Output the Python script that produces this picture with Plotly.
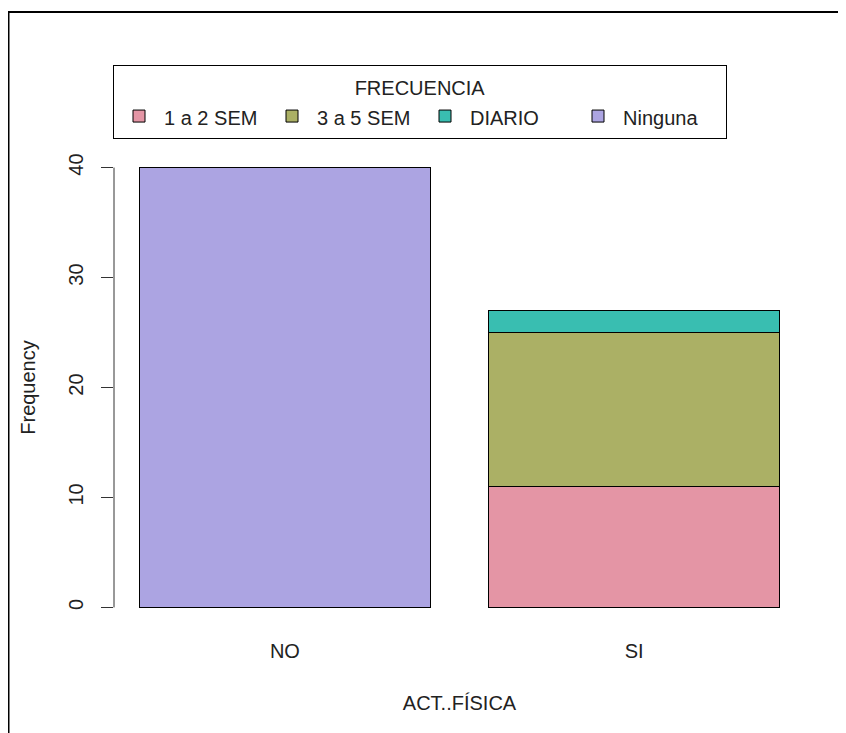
import plotly.graph_objects as go

categories = ["NO", "SI"]
series_names = ["1 a 2 SEM", "3 a 5 SEM", "DIARIO", "Ninguna"]
v_1a2 = [0, 11]
v_3a5 = [0, 14]
v_diario = [0, 2]
v_ninguna = [40, 0]
colors = ["#E495A5", "#ABB065", "#39BEB1", "#ACA4E2"]
y_ticks = [0, 10, 20, 30, 40]

FONT = "Liberation Sans, Arial, sans-serif"
FS = 20

fig = go.Figure()
for name, vals, col in zip(series_names, [v_1a2, v_3a5, v_diario, v_ninguna], colors):
    fig.add_trace(go.Bar(
        x=categories, y=vals, name=f"<span style='font-size:{FS}px'>{name}</span>", width=1 / 1.2,
        marker=dict(color=col, line=dict(color="black", width=1)),
    ))

# page has an 8px body margin, so the figure is sized to fill the rest of the window
W, H = 838, 725
L, R, T, B = 106, 41, 142, 108
PW, PH = W - L - R, H - T - B

def px_x(x):
    return (x - L) / PW

def px_y(y):
    return (H - B - y) / PH

fig.update_layout(
    width=W, height=H,
    margin=dict(l=L, r=R, t=T, b=B, pad=0),
    barmode="stack",
    plot_bgcolor="white", paper_bgcolor="white",
    font=dict(family=FONT, size=FS, color="#222222"),
    showlegend=True,
    legend=dict(
        orientation="h", x=px_x(105), xanchor="left", y=px_y(57), yanchor="top",
        traceorder="normal",
        bordercolor="black", borderwidth=1,
        font=dict(family=FONT, size=23, color="#222222"),
        title=dict(text=f"<span style='font-size:{FS}px'>FRECUENCIA</span>", side="top center",
                   font=dict(family=FONT, size=22)),
        itemwidth=40,
        entrywidth=98, entrywidthmode="pixels",
        itemclick=False,
    ),
    xaxis=dict(
        range=[-0.4895, 1.4895], showline=False, ticks="", showgrid=False, zeroline=False,
        tickfont=dict(family=FONT, size=FS), ticklabelstandoff=12,
        title=dict(text="ACT..FÍSICA", font=dict(family=FONT, size=FS), standoff=34),
    ),
    yaxis=dict(
        range=[-1.6, 41.6], tickvals=y_ticks, ticks="outside", ticklen=12, tickcolor="#333333",
        tickangle=-90, showgrid=False, zeroline=False, showline=False,
        tickfont=dict(family=FONT, size=FS), ticklabelstandoff=10,
        title=dict(text="Frequency", font=dict(family=FONT, size=FS), standoff=24),
    ),
    shapes=[
        dict(type="line", xref="paper", yref="y", x0=0, x1=0, y0=y_ticks[0], y1=y_ticks[-1],
             line=dict(color="#333333", width=1)),
        # outer frame lines of the reference screenshot
        dict(type="line", xref="paper", yref="paper", x0=px_x(0), x1=px_x(W),
             y0=px_y(4), y1=px_y(4), line=dict(color="black", width=2)),
        dict(type="line", xref="paper", yref="paper", x0=px_x(0.5), x1=px_x(0.5),
             y0=px_y(4), y1=px_y(H), line=dict(color="black", width=2)),
    ],
)

fig.write_html("out.html")
